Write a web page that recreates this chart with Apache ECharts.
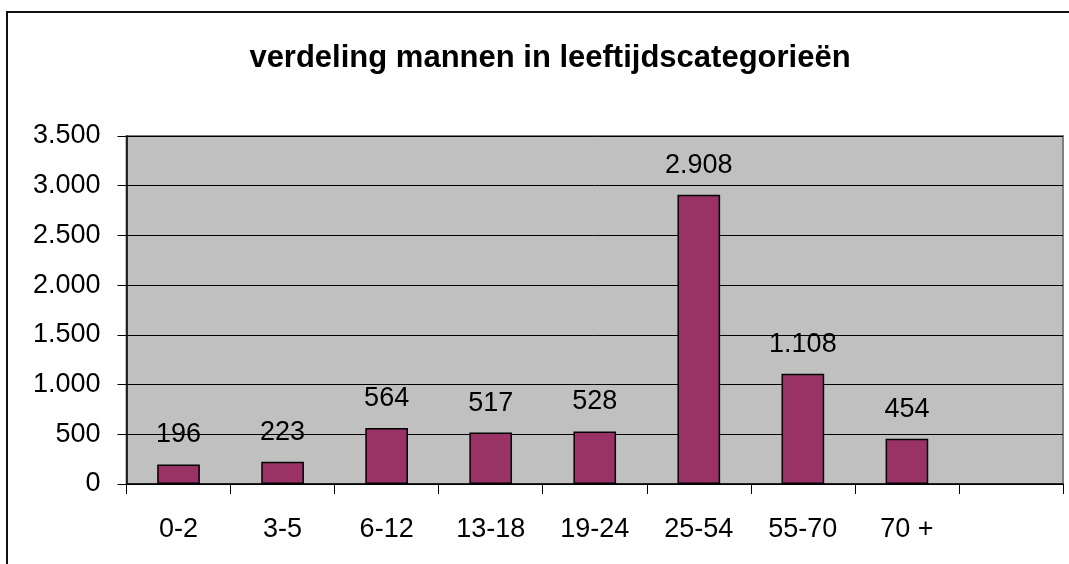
<!DOCTYPE html>
<html>
<head>
<meta charset="utf-8">
<script src="https://cdn.jsdelivr.net/npm/echarts@6/dist/echarts.min.js"></script>
<style>html,body{margin:0;padding:0;background:#fff}#c{width:1069px;height:564px}</style>
</head>
<body>
<div id="c"></div>
<script>
var titleText = 'verdeling mannen in leeftijdscategorieën';
var categories = ['0-2', '3-5', '6-12', '13-18', '19-24', '25-54', '55-70', '70 +', ''];
var values = [196, 223, 564, 517, 528, 2908, 1108, 454, null];
var yTicks = [0, 500, 1000, 1500, 2000, 2500, 3000, 3500];

function nl(v) {
  return String(Math.round(v)).replace(/\B(?=(\d{3})+(?!\d))/g, '.');
}

var font = '"Liberation Sans", Arial, sans-serif';
var chart = echarts.init(document.getElementById('c'), null, {renderer: 'canvas'});
chart.setOption({
  animation: false,
  backgroundColor: '#ffffff',
  textStyle: {fontFamily: font},
  title: {
    text: titleText,
    left: 545, top: 38,
    textAlign: 'center',
    textStyle: {fontFamily: font, fontSize: 31, fontWeight: 'bold', color: '#000'}
  },
  graphic: [{
    type: 'rect', silent: true, z: 0,
    shape: {x: 7, y: 12, width: 1120, height: 620},
    style: {fill: 'none', stroke: '#111', lineWidth: 2}
  }],
  grid: {
    left: 126.5, top: 136, right: 6, bottom: 80,
    show: true, backgroundColor: '#c0c0c0', borderColor: '#808080', borderWidth: 2
  },
  xAxis: {
    type: 'category',
    data: categories,
    boundaryGap: true,
    axisLine: {lineStyle: {color: '#000', width: 1.5}},
    axisTick: {show: true, length: 10, lineStyle: {color: '#000', width: 1}},
    axisLabel: {color: '#000', fontSize: 27, fontFamily: font, margin: 32, interval: 0}
  },
  yAxis: {
    type: 'value',
    min: yTicks[0], max: yTicks[yTicks.length - 1], interval: 500,
    axisLine: {show: true, lineStyle: {color: '#000', width: 1.5}},
    axisTick: {show: true, length: 9, lineStyle: {color: '#000'}},
    splitLine: {show: true, lineStyle: {color: '#000', width: 1}},
    axisLabel: {color: '#000', fontSize: 27, fontFamily: font, margin: 26, formatter: nl}
  },
  series: [{
    type: 'bar',
    data: values,
    barWidth: '41%',
    itemStyle: {color: '#993366', borderColor: '#000', borderWidth: 1.5},
    label: {
      show: true, position: 'top', distance: 16,
      color: '#000', fontSize: 27, fontFamily: font,
      formatter: function (p) { return p.value == null ? '' : nl(p.value); }
    }
  }]
});
</script>
</body>
</html>
